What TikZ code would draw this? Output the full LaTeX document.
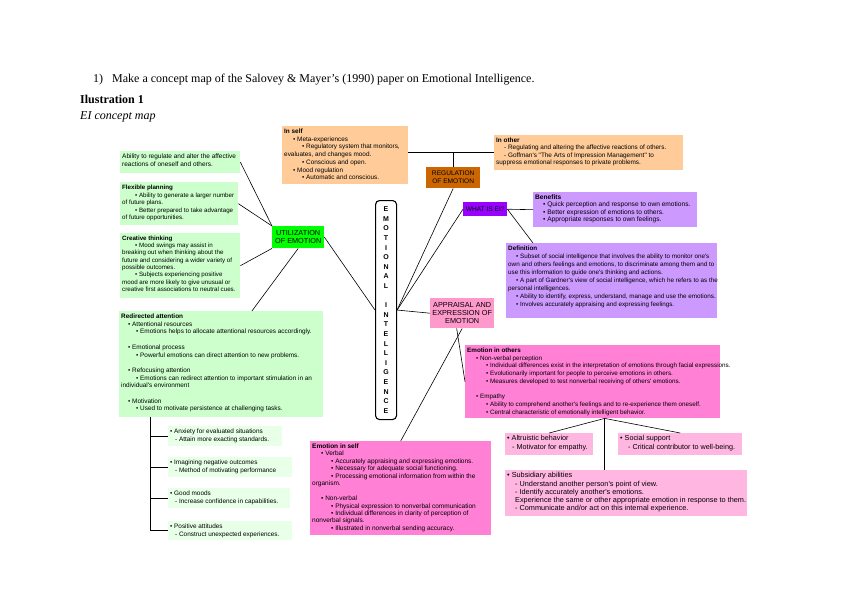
\documentclass[tikz,border=0pt]{standalone}
\usepackage{fontspec}
\setmainfont{Liberation Serif}
\newfontfamily\boxfont{Liberation Sans}

\definecolor{paleGreen}{HTML}{CCFFCC}
\definecolor{mintGreen}{HTML}{E8FFE8}
\definecolor{brightGreen}{HTML}{00FF00}
\definecolor{peach}{HTML}{FFCC99}
\definecolor{rust}{HTML}{CC6600}
\definecolor{violet}{HTML}{9900FF}
\definecolor{lilac}{HTML}{CC99FF}
\definecolor{rose}{HTML}{FF99CC}
\definecolor{hotPink}{HTML}{FF80D5}
\definecolor{softPink}{HTML}{FFB6E1}

% fixed-size text block, lines never wrap
\newcommand{\boxtext}[3]{\parbox[c][#2pt][t]{#1pt}{\begin{tabular}[t]{@{}l@{}}#3\end{tabular}}}

\begin{document}
\begin{tikzpicture}[x=1pt,y=-1pt,
    note/.style={anchor=north west, inner sep=2pt,
        font=\boxfont\fontsize{6.3}{7.4}\selectfont},
    tag/.style={anchor=north west, inner sep=0pt, align=center,
        font=\boxfont\fontsize{7}{8}\selectfont},
    link/.style={draw=black, line width=0.6pt}
]
\useasboundingbox (0,0) rectangle (848,599);

% heading
\node[anchor=base west, inner sep=0pt, font=\fontsize{12}{14}\selectfont] (num) at (93,83) {1)};
\node[anchor=base west, inner sep=0pt, font=\fontsize{12}{14}\selectfont] (task) at (112,83)
    {Make a concept map of the Salovey \& Mayer's (1990) paper on Emotional Intelligence.};
\node[anchor=base west, inner sep=0pt, font=\fontsize{12}{14}\selectfont\bfseries] (illus) at (80,104) {Ilustration 1};
\node[anchor=base west, inner sep=0pt, font=\fontsize{12}{14}\selectfont\itshape] (caption) at (80,120) {EI concept map};

% centre
\node[anchor=north west, draw, line width=1.1pt, rounded corners=4pt, fill=white,
    minimum width=21pt, minimum height=219pt, inner sep=0pt, align=center,
    font=\boxfont\bfseries\fontsize{7}{9.6}\selectfont] (ei) at (375,200)
    {E\\M\\O\\T\\I\\O\\N\\A\\L\\[9.6pt]I\\N\\T\\E\\L\\L\\I\\G\\E\\N\\C\\E};

% utilization branch
\node[tag, fill=brightGreen, minimum width=52pt, minimum height=22pt,
    font=\boxfont\fontsize{7.3}{8}\selectfont] (util) at (272,226) {UTILIZATION\\OF EMOTION};
\node[note, fill=paleGreen, font=\boxfont\fontsize{6.5}{7.6}\selectfont] (ability) at (120,151) {\boxtext{116}{18}{%
    Ability to regulate and alter the affective\\
    reactions of oneself and others.}};
\node[note, fill=paleGreen, font=\boxfont\fontsize{6.2}{7.6}\selectfont] (flexible) at (120,182) {\boxtext{114}{39}{%
    \textbf{Flexible planning}\\
    \hspace*{13pt}• Ability to generate a larger number\\
    of future plans.\\
    \hspace*{13pt}• Better prepared to take advantage\\
    of future opportunities.}};
\node[note, fill=paleGreen, font=\boxfont\fontsize{6.2}{7.3}\selectfont] (creative) at (120,233) {\boxtext{116}{61}{%
    \textbf{Creative thinking}\\
    \hspace*{13pt}• Mood swings may assist in\\
    breaking out when thinking about the\\
    future and considering a wider variety of\\
    possible outcomes.\\
    \hspace*{13pt}• Subjects experiencing positive\\
    mood are more likely to give unusual or\\
    creative first associations to neutral cues.}};
\node[note, fill=paleGreen, font=\boxfont\fontsize{6.4}{7.7}\selectfont] (redir) at (119,311) {\boxtext{200}{102}{%
    \textbf{Redirected attention}\\
    \hspace*{7pt}• Attentional resources\\
    \hspace*{15pt}• Emotions helps to allocate attentional resources accordingly.\\
    \\
    \hspace*{7pt}• Emotional process\\
    \hspace*{15pt}• Powerful emotions can direct attention to new problems.\\
    \\
    \hspace*{7pt}• Refocusing attention\\
    \hspace*{15pt}• Emotions can redirect attention to important stimulation in an\\
    individual's environment\\
    \\
    \hspace*{7pt}• Motivation\\
    \hspace*{15pt}• Used to motivate persistence at challenging tasks.}};
\node[note, fill=mintGreen, font=\boxfont\fontsize{6.4}{7.6}\selectfont] (anxiety) at (168,426) {\boxtext{110}{16}{%
    • Anxiety for evaluated situations\\
    \hspace*{5pt}- Attain more exacting standards.}};
\node[note, fill=mintGreen, font=\boxfont\fontsize{6.4}{7.6}\selectfont] (imagine) at (168,457) {\boxtext{120}{16}{%
    • Imagining negative outcomes\\
    \hspace*{5pt}- Method of motivating performance}};
\node[note, fill=mintGreen, font=\boxfont\fontsize{6.4}{7.6}\selectfont] (goodmood) at (168,488) {\boxtext{118}{16}{%
    • Good moods\\
    \hspace*{5pt}- Increase confidence in capabilities.}};
\node[note, fill=mintGreen, font=\boxfont\fontsize{6.4}{7.6}\selectfont] (positive) at (168,521) {\boxtext{120}{15}{%
    • Positive attitudes\\
    \hspace*{5pt}- Construct unexpected experiences.}};

% regulation branch
\node[tag, fill=rust, minimum width=54pt, minimum height=21pt,
    font=\boxfont\fontsize{6.6}{8}\selectfont] (regul) at (426,167) {REGULATION\\OF EMOTION};
\node[note, fill=peach, font=\boxfont\fontsize{6.4}{7.7}\selectfont] (inself) at (282,126) {\boxtext{122}{54}{%
    \textbf{In self}\\
    \hspace*{9pt}• Meta-experiences\\
    \hspace*{18pt}• Regulatory system that monitors,\\
    evaluates, and changes mood.\\
    \hspace*{18pt}• Conscious and open.\\
    \hspace*{9pt}• Mood regulation\\
    \hspace*{18pt}• Automatic and conscious.}};
\node[note, fill=peach, font=\boxfont\fontsize{6.4}{7.4}\selectfont] (inother) at (494,135) {\boxtext{185}{31}{%
    \textbf{In other}\\
    \hspace*{8pt}- Regulating and altering the affective reactions of others.\\
    \hspace*{8pt}- Goffman's "The Arts of Impression Management" to\\
    suppress emotional responses to private problems.}};

% what is EI branch
\node[tag, fill=violet, minimum width=44pt, minimum height=14pt,
    font=\boxfont\fontsize{6.6}{8}\selectfont] (whatis) at (463,202) {WHAT IS EI?};
\node[note, fill=lilac, font=\boxfont\fontsize{6.6}{7.4}\selectfont] (benefits) at (533,192) {\boxtext{160}{31}{%
    \textbf{Benefits}\\
    \hspace*{8pt}• Quick perception and response to own emotions.\\
    \hspace*{8pt}• Better expression of emotions to others.\\
    \hspace*{8pt}• Appropriate responses to own feelings.}};
\node[note, fill=lilac, font=\boxfont\fontsize{6.3}{8}\selectfont] (definition) at (506,243) {\boxtext{207}{71}{%
    \textbf{Definition}\\
    \hspace*{8pt}• Subset of social intelligence that involves the ability to monitor one's\\
    own and others feelings and emotions, to discriminate among them and to\\
    use this information to guide one's thinking and actions.\\
    \hspace*{8pt}• A part of Gardner's view of social intelligence, which he refers to as the\\
    personal intelligences.\\
    \hspace*{8pt}• Ability to identify, express, understand, manage and use the emotions.\\
    \hspace*{8pt}• Involves accurately appraising and expressing feelings.}};

% appraisal branch
\node[tag, fill=rose, minimum width=64pt, minimum height=30pt,
    font=\boxfont\fontsize{7.3}{8}\selectfont] (apprais) at (430,298) {APPRAISAL AND\\EXPRESSION OF\\EMOTION};
\node[note, fill=hotPink, font=\boxfont\fontsize{6.3}{7.7}\selectfont] (others) at (465,345) {\boxtext{251}{69}{%
    \textbf{Emotion in others}\\
    \hspace*{9pt}• Non-verbal perception\\
    \hspace*{19pt}• Individual differences exist in the interpretation of emotions through facial expressions.\\
    \hspace*{19pt}• Evolutionarily important for people to perceive emotions in others.\\
    \hspace*{19pt}• Measures developed to test nonverbal receiving of others' emotions.\\
    \\
    \hspace*{9pt}• Empathy\\
    \hspace*{19pt}• Ability to comprehend another's feelings and to re-experience them oneself.\\
    \hspace*{19pt}• Central characteristic of emotionally intelligent behavior.}};
\node[note, fill=softPink, font=\boxfont\fontsize{7.2}{8.2}\selectfont] (altru) at (505,433) {\boxtext{84}{18}{%
    • Altruistic behavior\\
    \hspace*{5pt}- Motivator for empathy.}};
\node[note, fill=softPink, font=\boxfont\fontsize{7.2}{8.2}\selectfont] (social) at (618,433) {\boxtext{120}{18}{%
    • Social support\\
    \hspace*{8pt}- Critical contributor to well-being.}};
\node[note, fill=softPink, font=\boxfont\fontsize{7.3}{8.2}\selectfont] (subsid) at (505,470) {\boxtext{238}{42}{%
    • Subsidiary abilities\\
    \hspace*{8pt}- Understand another person's point of view.\\
    \hspace*{8pt}- Identify accurately another's emotions.\\
    \hspace*{8pt}Experience the same or other appropriate emotion in response to them.\\
    \hspace*{8pt}- Communicate and/or act on this internal experience.}};
\node[note, fill=hotPink, font=\boxfont\fontsize{6.5}{7.45}\selectfont] (selfemo) at (310,441) {\boxtext{177}{90}{%
    \textbf{Emotion in self}\\
    \hspace*{9pt}• Verbal\\
    \hspace*{19pt}• Accurately appraising and expressing emotions.\\
    \hspace*{19pt}• Necessary for adequate social functioning.\\
    \hspace*{19pt}• Processing emotional information from within the\\
    organism.\\
    \\
    \hspace*{9pt}• Non-verbal\\
    \hspace*{19pt}• Physical expression to nonverbal communication\\
    \hspace*{19pt}• Individual differences in clarity of perception of\\
    nonverbal signals.\\
    \hspace*{19pt}• Illustrated in nonverbal sending accuracy.}};

% connectors
\draw[link] (ability.east) -- (util.north west);
\draw[link] (flexible.east) -- (util.north west);
\draw[link] (creative.east) -- (util.south west);
\draw[link] (redir.60) -- (util.south);
\draw[link] (util.east) -- (ei.west);
\coordinate (trunk) at ([xshift=31pt]redir.south west);
\draw[link] (trunk) |- (positive.west);
\foreach \n in {anxiety,imagine,goodmood}
    \draw[link] (trunk |- \n.west) -- (\n.west);

\draw[link] (inself.east |- inother.west) -- (inother.west);
\draw[link] (regul.north) -- (regul.north |- inother.west);
\draw[link] (regul.south) -- (ei.east);

\draw[link] (whatis.west) -- (ei.east);
\draw[link] (whatis.east) -- (benefits.west);
\draw[link] (whatis.east) -- ([xshift=27pt]definition.north west);

\draw[link] (apprais.west) -- (ei.east);
\draw[link] (apprais.250) -- (others.west);
\draw[link] (selfemo.north) -- (apprais.south);
\coordinate (split) at ([xshift=12pt]others.south);
\draw[link] (split) -- (altru.north);
\draw[link] (split) -- (social.north);
\draw[link] (split) -- (split |- subsid.north);
\end{tikzpicture}
\end{document}
